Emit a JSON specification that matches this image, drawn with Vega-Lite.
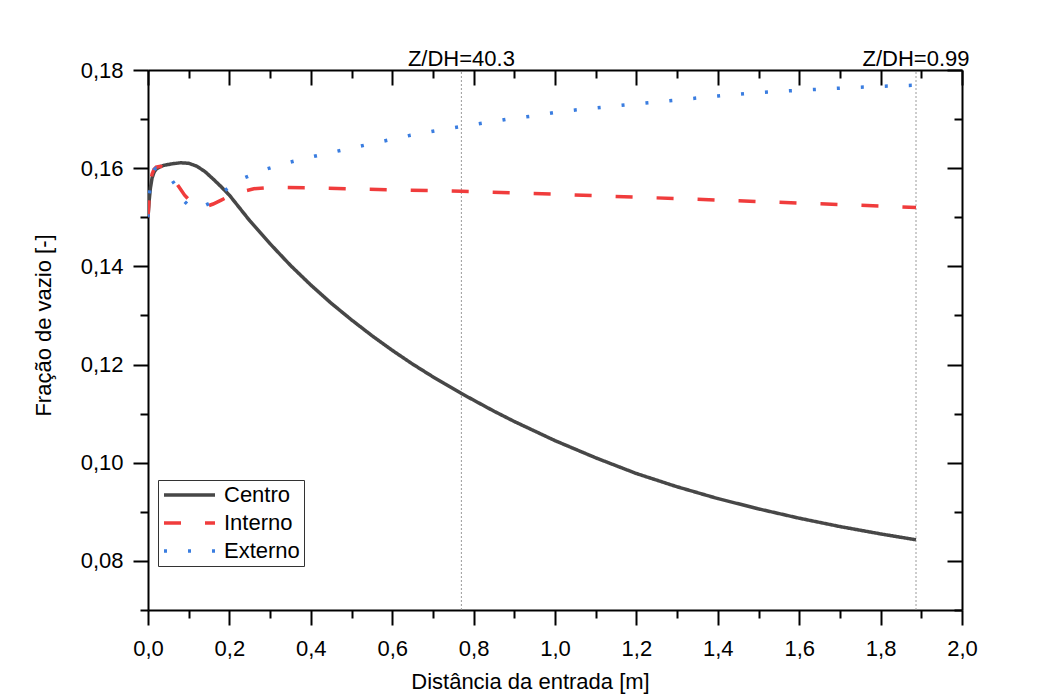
{
  "$schema": "https://vega.github.io/schema/vega-lite/v6.json",
  "width": 814,
  "height": 540,
  "autosize": {"type": "none"},
  "padding": {"left": 148, "top": 70, "right": 94, "bottom": 87},
  "background": "white",
  "config": {
    "font": "Liberation Sans",
    "view": {"stroke": null},
    "axis": {"grid": false, "labelFlush": false, "labelOverlap": false, "labelBound": false}
  },
  "datasets": {
    "series": [
      {"x": 0, "y": 0.150, "series": "Centro"},
      {"x": 0.003, "y": 0.1535, "series": "Centro"},
      {"x": 0.006, "y": 0.156, "series": "Centro"},
      {"x": 0.01, "y": 0.158, "series": "Centro"},
      {"x": 0.015, "y": 0.1592, "series": "Centro"},
      {"x": 0.02, "y": 0.1598, "series": "Centro"},
      {"x": 0.03, "y": 0.1603, "series": "Centro"},
      {"x": 0.04, "y": 0.1606, "series": "Centro"},
      {"x": 0.06, "y": 0.1609, "series": "Centro"},
      {"x": 0.08, "y": 0.1611, "series": "Centro"},
      {"x": 0.1, "y": 0.1610, "series": "Centro"},
      {"x": 0.12, "y": 0.1604, "series": "Centro"},
      {"x": 0.14, "y": 0.1593, "series": "Centro"},
      {"x": 0.16, "y": 0.1578, "series": "Centro"},
      {"x": 0.18, "y": 0.1562, "series": "Centro"},
      {"x": 0.2, "y": 0.1545, "series": "Centro"},
      {"x": 0.25, "y": 0.1493, "series": "Centro"},
      {"x": 0.3, "y": 0.1446, "series": "Centro"},
      {"x": 0.35, "y": 0.1402, "series": "Centro"},
      {"x": 0.4, "y": 0.1362, "series": "Centro"},
      {"x": 0.45, "y": 0.1325, "series": "Centro"},
      {"x": 0.5, "y": 0.1291, "series": "Centro"},
      {"x": 0.55, "y": 0.1259, "series": "Centro"},
      {"x": 0.6, "y": 0.1229, "series": "Centro"},
      {"x": 0.65, "y": 0.1201, "series": "Centro"},
      {"x": 0.7, "y": 0.1175, "series": "Centro"},
      {"x": 0.77, "y": 0.1141, "series": "Centro"},
      {"x": 0.85, "y": 0.1105, "series": "Centro"},
      {"x": 0.9, "y": 0.1084, "series": "Centro"},
      {"x": 1.0, "y": 0.1045, "series": "Centro"},
      {"x": 1.1, "y": 0.1010, "series": "Centro"},
      {"x": 1.2, "y": 0.0978, "series": "Centro"},
      {"x": 1.3, "y": 0.0951, "series": "Centro"},
      {"x": 1.4, "y": 0.0927, "series": "Centro"},
      {"x": 1.5, "y": 0.0906, "series": "Centro"},
      {"x": 1.6, "y": 0.0887, "series": "Centro"},
      {"x": 1.7, "y": 0.0870, "series": "Centro"},
      {"x": 1.8, "y": 0.0855, "series": "Centro"},
      {"x": 1.887, "y": 0.0843, "series": "Centro"},
      {"x": 0, "y": 0.150, "series": "Interno"},
      {"x": 0.003, "y": 0.1545, "series": "Interno"},
      {"x": 0.006, "y": 0.1570, "series": "Interno"},
      {"x": 0.01, "y": 0.1588, "series": "Interno"},
      {"x": 0.015, "y": 0.1598, "series": "Interno"},
      {"x": 0.02, "y": 0.1602, "series": "Interno"},
      {"x": 0.03, "y": 0.1604, "series": "Interno"},
      {"x": 0.04, "y": 0.1601, "series": "Interno"},
      {"x": 0.05, "y": 0.1593, "series": "Interno"},
      {"x": 0.06, "y": 0.1582, "series": "Interno"},
      {"x": 0.075, "y": 0.1563, "series": "Interno"},
      {"x": 0.09, "y": 0.1545, "series": "Interno"},
      {"x": 0.1, "y": 0.1536, "series": "Interno"},
      {"x": 0.12, "y": 0.1524, "series": "Interno"},
      {"x": 0.14, "y": 0.1521, "series": "Interno"},
      {"x": 0.16, "y": 0.1527, "series": "Interno"},
      {"x": 0.18, "y": 0.1535, "series": "Interno"},
      {"x": 0.2, "y": 0.1543, "series": "Interno"},
      {"x": 0.23, "y": 0.1552, "series": "Interno"},
      {"x": 0.26, "y": 0.1558, "series": "Interno"},
      {"x": 0.3, "y": 0.1561, "series": "Interno"},
      {"x": 0.4, "y": 0.1560, "series": "Interno"},
      {"x": 0.5, "y": 0.1558, "series": "Interno"},
      {"x": 0.6, "y": 0.1556, "series": "Interno"},
      {"x": 0.77, "y": 0.1553, "series": "Interno"},
      {"x": 1.0, "y": 0.1547, "series": "Interno"},
      {"x": 1.2, "y": 0.1541, "series": "Interno"},
      {"x": 1.4, "y": 0.1535, "series": "Interno"},
      {"x": 1.6, "y": 0.1529, "series": "Interno"},
      {"x": 1.8, "y": 0.1523, "series": "Interno"},
      {"x": 1.887, "y": 0.1520, "series": "Interno"},
      {"x": 0, "y": 0.150, "series": "Externo"},
      {"x": 0.003, "y": 0.1545, "series": "Externo"},
      {"x": 0.006, "y": 0.1570, "series": "Externo"},
      {"x": 0.01, "y": 0.1588, "series": "Externo"},
      {"x": 0.015, "y": 0.1597, "series": "Externo"},
      {"x": 0.02, "y": 0.1600, "series": "Externo"},
      {"x": 0.03, "y": 0.1597, "series": "Externo"},
      {"x": 0.045, "y": 0.1586, "series": "Externo"},
      {"x": 0.06, "y": 0.1574, "series": "Externo"},
      {"x": 0.07, "y": 0.1562, "series": "Externo"},
      {"x": 0.08, "y": 0.1545, "series": "Externo"},
      {"x": 0.09, "y": 0.1532, "series": "Externo"},
      {"x": 0.1, "y": 0.1524, "series": "Externo"},
      {"x": 0.115, "y": 0.1519, "series": "Externo"},
      {"x": 0.13, "y": 0.1520, "series": "Externo"},
      {"x": 0.15, "y": 0.1528, "series": "Externo"},
      {"x": 0.182, "y": 0.1551, "series": "Externo"},
      {"x": 0.2, "y": 0.1561, "series": "Externo"},
      {"x": 0.236, "y": 0.1580, "series": "Externo"},
      {"x": 0.29, "y": 0.1598, "series": "Externo"},
      {"x": 0.348, "y": 0.1612, "series": "Externo"},
      {"x": 0.407, "y": 0.1624, "series": "Externo"},
      {"x": 0.5, "y": 0.1641, "series": "Externo"},
      {"x": 0.645, "y": 0.1667, "series": "Externo"},
      {"x": 0.704, "y": 0.1676, "series": "Externo"},
      {"x": 0.763, "y": 0.1684, "series": "Externo"},
      {"x": 0.825, "y": 0.1692, "series": "Externo"},
      {"x": 0.883, "y": 0.1700, "series": "Externo"},
      {"x": 0.944, "y": 0.1706, "series": "Externo"},
      {"x": 1.004, "y": 0.1714, "series": "Externo"},
      {"x": 1.065, "y": 0.1720, "series": "Externo"},
      {"x": 1.2, "y": 0.1731, "series": "Externo"},
      {"x": 1.3, "y": 0.1739, "series": "Externo"},
      {"x": 1.4, "y": 0.1747, "series": "Externo"},
      {"x": 1.482, "y": 0.1753, "series": "Externo"},
      {"x": 1.605, "y": 0.1759, "series": "Externo"},
      {"x": 1.723, "y": 0.1764, "series": "Externo"},
      {"x": 1.843, "y": 0.1768, "series": "Externo"},
      {"x": 1.887, "y": 0.1769, "series": "Externo"}
    ],
    "refs": [
      {"x": 0.77, "label": "Z/DH=40.3"},
      {"x": 1.887, "label": "Z/DH=0.99"}
    ]
  },
  "layer": [
    {
      "data": {"name": "refs"},
      "mark": {"type": "rule", "color": "#9a9a9a", "strokeWidth": 1, "strokeDash": [2, 2]},
      "encoding": {
        "x": {
          "field": "x", "type": "quantitative",
          "scale": {"domain": [0, 2], "nice": false, "zero": false},
          "axis": {
            "orient": "top",
            "values": [0, 0.1, 0.2, 0.3, 0.4, 0.5, 0.6, 0.7, 0.8, 0.9, 1.0, 1.1, 1.2, 1.3, 1.4, 1.5, 1.6, 1.7, 1.8, 1.9, 2.0],
            "labels": false,
            "title": null,
            "domainColor": "black", "domainWidth": 2,
            "tickColor": "black", "tickWidth": 2,
            "tickSize": {"condition": {"test": "round(datum.value*10) % 2 == 0", "value": -15}, "value": -8}
          }
        },
        "y": {
          "datum": 0.07, "type": "quantitative",
          "scale": {"domain": [0.07, 0.18], "nice": false, "zero": false},
          "axis": {
            "orient": "right",
            "values": [0.07, 0.08, 0.09, 0.10, 0.11, 0.12, 0.13, 0.14, 0.15, 0.16, 0.17, 0.18],
            "labels": false,
            "title": null,
            "domainColor": "black", "domainWidth": 2,
            "tickColor": "black", "tickWidth": 2,
            "tickSize": {"condition": {"test": "round(datum.value*100) % 2 == 0", "value": -15}, "value": -8}
          }
        },
        "y2": {"datum": 0.18}
      }
    },
    {
      "data": {"name": "series"},
      "mark": {"type": "line", "strokeWidth": 3.5, "strokeCap": "butt", "clip": true},
      "encoding": {
        "x": {
          "field": "x", "type": "quantitative",
          "scale": {"domain": [0, 2], "nice": false, "zero": false},
          "axis": {
            "orient": "bottom",
            "values": [0, 0.1, 0.2, 0.3, 0.4, 0.5, 0.6, 0.7, 0.8, 0.9, 1.0, 1.1, 1.2, 1.3, 1.4, 1.5, 1.6, 1.7, 1.8, 1.9, 2.0],
            "labelExpr": "round(datum.value*10) % 2 == 0 ? replace(format(datum.value, '.1f'), '.', ',') : ''",
            "labelFontSize": 22, "labelColor": "black", "labelPadding": 13,
            "domainColor": "black", "domainWidth": 2,
            "tickColor": "black", "tickWidth": 2,
            "tickSize": {"condition": {"test": "round(datum.value*10) % 2 == 0", "value": 15}, "value": 8},
            "title": "Distância da entrada [m]",
            "titleFontSize": 22, "titleFontWeight": "normal", "titleColor": "black",
            "titleX": 382, "titleY": 78, "titleBaseline": "alphabetic"
          }
        },
        "y": {
          "field": "y", "type": "quantitative",
          "scale": {"domain": [0.07, 0.18], "nice": false, "zero": false},
          "axis": {
            "orient": "left",
            "values": [0.07, 0.08, 0.09, 0.10, 0.11, 0.12, 0.13, 0.14, 0.15, 0.16, 0.17, 0.18],
            "labelExpr": "round(datum.value*100) % 2 == 0 ? replace(format(datum.value, '.2f'), '.', ',') : ''",
            "labelFontSize": 22, "labelColor": "black", "labelPadding": 10,
            "domainColor": "black", "domainWidth": 2,
            "tickColor": "black", "tickWidth": 2,
            "tickSize": {"condition": {"test": "round(datum.value*100) % 2 == 0", "value": 15}, "value": 8},
            "title": "Fração de vazio [-]",
            "titleFontSize": 22, "titleFontWeight": "normal", "titleColor": "black",
            "titleX": -98, "titleY": 255, "titleBaseline": "alphabetic", "titleAngle": -90
          }
        },
        "color": {
          "field": "series", "type": "nominal",
          "scale": {"domain": ["Centro", "Interno", "Externo"], "range": ["#474747", "#F03C3C", "#3A7DE0"]},
          "legend": {
            "title": null,
            "orient": "none", "legendX": 10, "legendY": 410,
            "padding": 4, "strokeColor": "#333333", "fillColor": "white",
            "symbolType": "stroke", "symbolSize": 2601, "symbolStrokeWidth": 3.5,
            "labelFontSize": 22, "labelColor": "black", "labelOffset": 7,
            "clipHeight": 22, "rowPadding": 6
          }
        },
        "strokeDash": {
          "field": "series", "type": "nominal",
          "scale": {"domain": ["Centro", "Interno", "Externo"], "range": [[1, 0], [17, 24], [3, 21]]},
          "legend": {
            "title": null,
            "orient": "none", "legendX": 10, "legendY": 410,
            "padding": 4, "strokeColor": "#333333", "fillColor": "white",
            "symbolType": "stroke", "symbolSize": 2601, "symbolStrokeWidth": 3.5,
            "labelFontSize": 22, "labelColor": "black", "labelOffset": 7,
            "clipHeight": 22, "rowPadding": 6
          }
        }
      }
    },
    {
      "data": {"name": "refs"},
      "mark": {"type": "text", "fontSize": 22, "color": "black", "align": "center", "baseline": "alphabetic", "dy": -4, "clip": false},
      "encoding": {
        "x": {"field": "x", "type": "quantitative", "axis": null},
        "y": {"datum": 0.18, "type": "quantitative", "axis": null},
        "text": {"field": "label"}
      }
    }
  ],
  "resolve": {"axis": {"x": "independent", "y": "independent"}}
}
